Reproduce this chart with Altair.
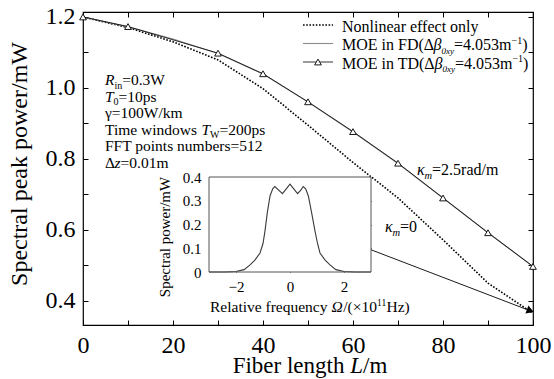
import altair as alt
import pandas as pd

# ---------------- data ----------------
fiber_length = [0, 10, 20, 30, 40, 50, 60, 70, 80, 90, 100]
nonlinear_only = [1.200, 1.170, 1.130, 1.079, 0.998, 0.895, 0.790, 0.690, 0.572, 0.450, 0.365]
moe_fd = [1.200, 1.172, 1.138, 1.097, 1.039, 0.960, 0.876, 0.787, 0.690, 0.592, 0.497]
td_length = [0, 10, 30, 40, 50, 60, 70, 80, 90, 100]
moe_td = [1.200, 1.173, 1.098, 1.040, 0.961, 0.877, 0.788, 0.690, 0.592, 0.497]
pointer_length = [64.0, 99.4]
pointer_power = [0.544, 0.372]
inset_omega = [-3.0, -2.4, -2.0, -1.7, -1.48, -1.3, -1.11, -1.0, -0.93, -0.84, -0.74, -0.64, -0.56,
               -0.42, -0.28, -0.14, 0.0, 0.14, 0.28, 0.40, 0.49, 0.58, 0.68, 0.80, 0.93, 1.02, 1.11,
               1.3, 1.48, 1.7, 2.0, 2.4, 3.0]
inset_power = [0.0, 0.0, 0.002, 0.01, 0.03, 0.05, 0.08, 0.12, 0.17, 0.25, 0.32, 0.35, 0.36,
               0.345, 0.33, 0.35, 0.37, 0.35, 0.33, 0.345, 0.36, 0.35, 0.32, 0.25, 0.17, 0.12, 0.08,
               0.05, 0.03, 0.01, 0.002, 0.0, 0.0]
x_labels = [0, 20, 40, 60, 80, 100]
x_ticks = [0, 10, 20, 30, 40, 50, 60, 70, 80, 90, 100]
y_labels = [0.4, 0.6, 0.8, 1.0, 1.2]
y_ticks = [0.4, 0.5, 0.6, 0.7, 0.8, 0.9, 1.0, 1.1, 1.2]
inset_x_labels = [-2, 0, 2]
inset_y_labels = [0, 0.1, 0.2, 0.3, 0.4]
inset_y_ticks = [0.1, 0.2, 0.3]

# ---------------- layout ----------------
FONT = "Liberation Serif, Times New Roman, serif"
W, H = 450, 313
PL, PT = 83, 12
INSET_L, INSET_R, INSET_T, INSET_B = 209, 371, 177, 272


def px(x):
    return x - PL


def py(y):
    return y - PT


xs = alt.Scale(domain=[0, 100], nice=False, zero=False)
ys = alt.Scale(domain=[0.332, 1.214], nice=False, zero=False)
ixs = alt.Scale(domain=[-3, 3], range=[px(INSET_L), px(INSET_R)], nice=False, zero=False)
iys = alt.Scale(domain=[0, 0.4], range=[py(INSET_B), py(INSET_T)], nice=False, zero=False)


def label_axis(orient, values, size, pad, offset=0, fmt=None, expr=None):
    kw = dict(orient=orient, values=values, ticks=False, tickSize=0, domain=False, grid=False,
              labelFont=FONT, labelFontSize=size, labelColor="black", labelPadding=pad,
              labelFlush=False, labelOverlap=False, title=None, offset=offset)
    if fmt:
        kw["format"] = fmt
    if expr:
        kw["labelExpr"] = expr
    return alt.Axis(**kw)


def tick_axis(orient, values, offset, size=5):
    return alt.Axis(orient=orient, values=values, offset=offset, labels=False, domain=False,
                    grid=False, ticks=True, tickSize=size, tickColor="black", tickWidth=1,
                    title=None)


# ---------------- text helpers ----------------
REG = {" ": 250, "(": 333, ")": 333, "/": 278, "=": 564, ".": 250, "×": 564, "−": 564,
       "A": 722, "D": 722, "E": 611, "F": 556, "H": 722, "L": 611, "M": 889, "N": 722,
       "O": 722, "R": 667, "S": 556, "T": 611, "W": 944,
       "a": 444, "b": 500, "c": 444, "d": 500, "e": 444, "f": 333, "g": 500, "h": 500,
       "i": 278, "k": 500, "l": 278, "m": 778, "n": 500, "o": 500, "p": 500, "q": 500,
       "r": 333, "s": 389, "t": 278, "u": 500, "v": 500, "w": 722, "x": 500, "y": 500,
       "z": 444, "Δ": 612, "γ": 430, "Ω": 768}
ITA = {"L": 556, "R": 611, "T": 556, "z": 389, "β": 500, "κ": 470, "Ω": 768, "m": 722,
       "x": 444, "y": 444, "0": 500}

one = pd.DataFrame({"k": [0]})


def tw(s, size, italic):
    tbl = ITA if italic else REG
    return sum(tbl.get(c, 500) for c in s) * size / 1000.0


def text_layer(s, x, y, size, italic=False, align="left", angle=0, baseline="alphabetic"):
    mk = dict(font=FONT, fontSize=size, align=align, baseline=baseline, color="black",
              fontStyle="italic" if italic else "normal")
    if angle:
        mk["angle"] = angle
    return alt.Chart(one).mark_text(**mk).encode(
        x=alt.value(px(x)), y=alt.value(py(y)), text=alt.value(s))


def rich(parts, x0, base, align="left"):
    total = sum(tw(t, s, it) for t, s, it, dy in parts)
    x = x0 - (total / 2 if align == "center" else 0)
    out = []
    for t, s, it, dy in parts:
        out.append(text_layer(t, x, base + dy, s, it))
        x += tw(t, s, it)
    return out


# ---------------- main curves ----------------
df_nl = pd.DataFrame({"L": fiber_length, "P": nonlinear_only})
df_fd = pd.DataFrame({"L": fiber_length, "P": moe_fd})
df_td = pd.DataFrame({"L": td_length, "P": moe_td})
df_ptr = pd.DataFrame({"x0": [pointer_length[0]], "x1": [pointer_length[1]],
                       "y0": [pointer_power[0]], "y1": [pointer_power[1]]})
df_head = pd.DataFrame({"L": [pointer_length[1]], "P": [pointer_power[1]]})

nl = alt.Chart(df_nl).mark_line(color="black", strokeDash=[1.6, 1.6], strokeWidth=1.6).encode(
    x=alt.X("L:Q", scale=xs, axis=label_axis("bottom", x_labels, 24, 8)),
    y=alt.Y("P:Q", scale=ys, axis=label_axis("left", y_labels, 24, 8, fmt=".1f")))

fd = alt.Chart(df_fd).mark_line(color="#8c8c8c", strokeWidth=1.1).encode(
    x=alt.X("L:Q", scale=xs, axis=tick_axis("top", x_ticks, -H)),
    y=alt.Y("P:Q", scale=ys, axis=tick_axis("right", y_ticks, -W)))

td = alt.Chart(df_td).mark_line(color="black", strokeWidth=0.8).encode(
    x=alt.X("L:Q", scale=xs, axis=tick_axis("bottom", x_ticks, -H)),
    y=alt.Y("P:Q", scale=ys, axis=tick_axis("left", y_ticks, -W)))

td_pts = alt.Chart(df_td).mark_point(shape="triangle-up", size=45, filled=True, fill="white",
                                     stroke="black", strokeWidth=0.9, opacity=1).encode(
    x=alt.X("L:Q", scale=xs, axis=None), y=alt.Y("P:Q", scale=ys, axis=None))

ptr = alt.Chart(df_ptr).mark_rule(color="black", strokeWidth=0.9).encode(
    x=alt.X("x0:Q", scale=xs, axis=None), x2="x1:Q",
    y=alt.Y("y0:Q", scale=ys, axis=None), y2="y1:Q")

head = alt.Chart(df_head).mark_point(shape="triangle-right", filled=True, color="black",
                                     size=70, angle=21, opacity=1).encode(
    x=alt.X("L:Q", scale=xs, axis=None), y=alt.Y("P:Q", scale=ys, axis=None))

# ---------------- legend ----------------
leg = [
    alt.Chart(one).mark_rule(color="black", strokeDash=[1.6, 1.6], strokeWidth=1.6).encode(
        x=alt.value(px(303)), x2=alt.value(px(333)), y=alt.value(py(25))),
    alt.Chart(one).mark_rule(color="#8c8c8c", strokeWidth=1.1).encode(
        x=alt.value(px(303)), x2=alt.value(px(333)), y=alt.value(py(43.5))),
    alt.Chart(one).mark_rule(color="black", strokeWidth=0.8).encode(
        x=alt.value(px(303)), x2=alt.value(px(333)), y=alt.value(py(62))),
    alt.Chart(one).mark_point(shape="triangle-up", size=45, filled=True, fill="white",
                              stroke="black", strokeWidth=0.9, opacity=1).encode(
        x=alt.value(px(318)), y=alt.value(py(62))),
]
LS = 16
leg += rich([("Nonlinear effect only", LS, False, 0)], 342, 31.5)
for lbl, base in (("FD", 50), ("TD", 68.5)):
    leg += rich([("MOE in %s(Δ" % lbl, LS, False, 0), ("β", LS, True, 0), ("0xy", 9, True, 3.5),
                 ("=4.053m", LS, False, 0), ("−1", 10, False, -6.5), (")", LS, False, 0)],
                342, base)

# ---------------- annotations ----------------
PS = 15.5
notes = []
notes += rich([("R", PS, True, 0), ("in", 10, False, 3.5), ("=0.3W", PS, False, 0)], 105, 85)
notes += rich([("T", PS, True, 0), ("0", 10, False, 3.5), ("=10ps", PS, False, 0)], 105, 101.6)
notes += rich([("γ=100W/km", PS, False, 0)], 105, 118.2)
notes += rich([("Time windows ", PS, False, 0), ("T", PS, True, 0), ("W", 10, False, 3.5),
               ("=200ps", PS, False, 0)], 105, 134.8)
notes += rich([("FFT points numbers=512", PS, False, 0)], 105, 151.4)
notes += rich([("Δ", PS, False, 0), ("z", PS, True, 0), ("=0.01m", PS, False, 0)], 105, 168)
notes += rich([("κ", 16, True, 0), ("m", 10.5, True, 3.5), ("=2.5rad/m", 16, False, 0)], 417, 175)
notes += rich([("κ", 16, True, 0), ("m", 10.5, True, 3.5), ("=0", 16, False, 0)], 385, 232)

# axis titles
notes += rich([("Fiber length ", 23, False, 0), ("L", 23, True, 0), ("/m", 23, False, 0)],
              310, 373, align="center")
notes.append(text_layer("Spectral peak power/mW", 20, 164, 24, align="center", angle=270,
                        baseline="middle"))
notes.append(text_layer("Spectral power/mW", 165, 237, 15, align="center", angle=270,
                        baseline="middle"))
notes += rich([("Relative frequency ", 15.5, False, 0), ("Ω", 15.5, True, 0),
               ("/(×10", 15.5, False, 0), ("11", 9.5, False, -6), ("Hz)", 15.5, False, 0)],
              210, 312)

main = alt.layer(nl, fd, td, ptr, head, td_pts, *leg, *notes).resolve_axis(
    x="independent", y="independent")

# ---------------- inset ----------------
df_box = pd.DataFrame({"x0": [-3], "x1": [3], "y0": [0], "y1": [0.4]})
df_spec = pd.DataFrame({"O": inset_omega, "S": inset_power})

inset_bg = alt.Chart(df_box).mark_rect(fill="white", strokeWidth=0).encode(
    x=alt.X("x0:Q", scale=ixs,
            axis=label_axis("bottom", inset_x_labels, 15, 7, offset=-(H - py(INSET_B)))),
    x2="x1:Q",
    y=alt.Y("y0:Q", scale=iys,
            axis=label_axis("left", inset_y_labels, 15, 8, offset=-px(INSET_L),
                            expr="datum.value == 0 ? '0' : format(datum.value, '.1f')")),
    y2="y1:Q")

inset_line = alt.Chart(df_spec).mark_line(color="#3a3a3a", strokeWidth=1.1).encode(
    x=alt.X("O:Q", scale=ixs, axis=tick_axis("top", inset_x_labels, -py(INSET_B), 4)),
    y=alt.Y("S:Q", scale=iys, axis=tick_axis("right", inset_y_ticks, -(W - px(INSET_L)), 4)))

inset_frame = alt.Chart(df_box).mark_rect(fillOpacity=0, stroke="#555555", strokeWidth=1).encode(
    x=alt.X("x0:Q", scale=ixs, axis=tick_axis("bottom", inset_x_labels, -(H - py(INSET_T)), 4)),
    x2="x1:Q",
    y=alt.Y("y0:Q", scale=iys, axis=tick_axis("left", inset_y_ticks, -px(INSET_R), 4)),
    y2="y1:Q")

inset = alt.layer(inset_bg, inset_line, inset_frame).resolve_axis(x="independent", y="independent")

chart = alt.layer(main, inset).resolve_scale(x="independent", y="independent").resolve_axis(
    x="independent", y="independent").properties(
    width=W, height=H, autosize="none",
    padding={"left": PL, "top": PT, "right": 554 - PL - W, "bottom": 379 - PT - H},
    background="white",
).configure_view(stroke="black", strokeWidth=1.2)

chart.save("out.html", embed_options={"renderer": "svg", "actions": False})
